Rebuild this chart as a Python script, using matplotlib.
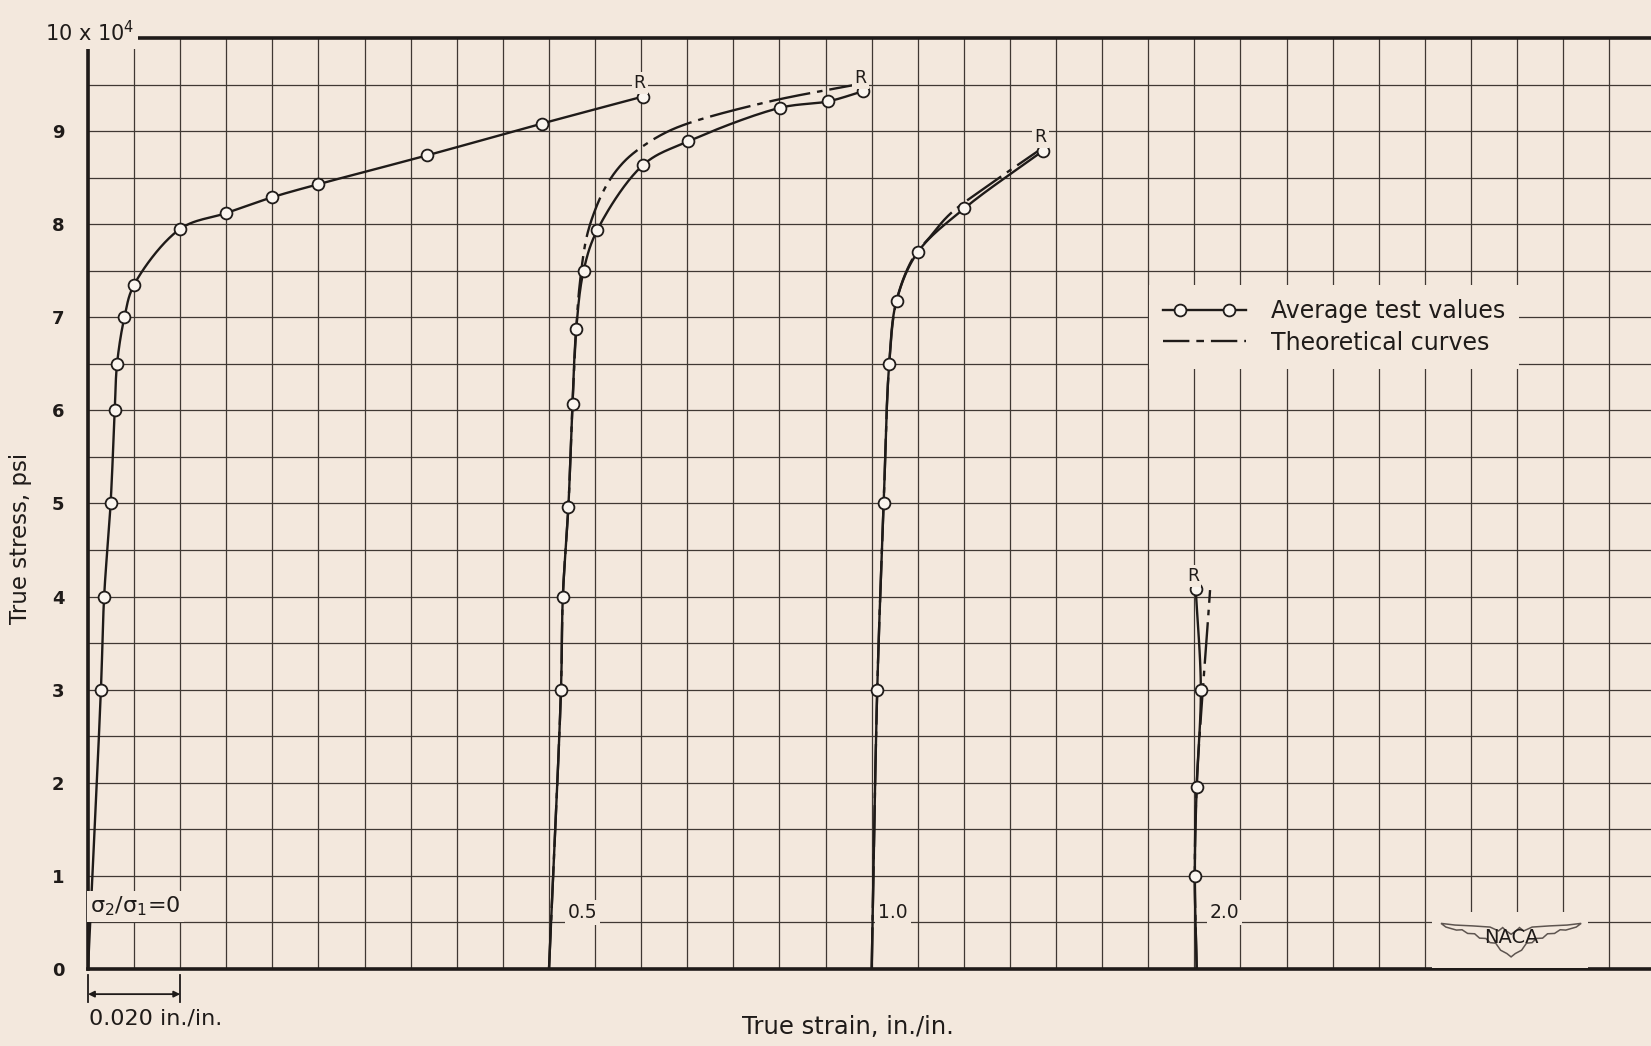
import numpy as np
import matplotlib
matplotlib.use("Agg")
import matplotlib.pyplot as plt
from matplotlib.legend_handler import HandlerBase
from matplotlib.lines import Line2D
from matplotlib.patches import Polygon, Rectangle

plt.rcParams['font.family'] = ['DejaVu Sans']
plt.rcParams['lines.scale_dashes'] = False
plt.rcParams['mathtext.fontset'] = 'dejavusans'

PAPER = '#f3e8dd'
INK = '#1f1b19'
GRID = '#3f3833'
DOT_FILL = '#faf5ef'

# Stress ratios sigma2/sigma1 and the horizontal origin of each curve (in./in.)
ratio_labels = ['0', '0.5', '1.0', '2.0']
curve_offsets = [0.0, 0.100, 0.170, 0.2405]

# Average test values: true strain from each curve origin (in./in.), true stress (10^4 psi)
test_strain_0 = [0, 0.0028, 0.0035, 0.0049, 0.0058, 0.0063, 0.0079, 0.0100,
                 0.0200, 0.0300, 0.0400, 0.0500, 0.0736, 0.0984, 0.1203]
test_stress_0 = [0, 3.0, 4.0, 5.0, 6.0, 6.5, 7.0, 7.35,
                 7.95, 8.12, 8.29, 8.43, 8.74, 9.08, 9.37]

test_strain_05 = [0, 0.0026, 0.0030, 0.0042, 0.0051, 0.0059, 0.0075,
                  0.0105, 0.0205, 0.0302, 0.0501, 0.0606, 0.0682]
test_stress_05 = [0, 3.0, 4.0, 4.96, 6.07, 6.87, 7.50,
                  7.94, 8.64, 8.89, 9.25, 9.32, 9.43]

test_strain_10 = [0, 0.0012, 0.0026, 0.0038, 0.0054, 0.0100, 0.0201, 0.0372]
test_stress_10 = [0, 3.0, 5.0, 6.5, 7.18, 7.70, 8.17, 8.79]

test_strain_20 = [0, -0.0004, 0.0000, 0.0009, -0.0002]
test_stress_20 = [0, 1.0, 1.96, 3.0, 4.08]

# Theoretical curves
theo_strain_05 = [0, 0.0026, 0.0030, 0.0042, 0.0051, 0.0059, 0.0067, 0.0082,
                  0.0103, 0.0125, 0.0150, 0.0180, 0.0240, 0.0300, 0.0480, 0.0667]
theo_stress_05 = [0, 3.0, 4.0, 4.96, 6.07, 6.87, 7.37, 7.87,
                  8.19, 8.42, 8.60, 8.75, 8.95, 9.08, 9.32, 9.50]

theo_strain_10 = [0, 0.0012, 0.0026, 0.0038, 0.0054, 0.0090, 0.0126, 0.0170, 0.0257, 0.0365]
theo_stress_10 = [0, 3.0, 5.0, 6.5, 7.18, 7.64, 7.86, 8.11, 8.43, 8.80]

theo_strain_20 = [0, -0.0004, 0.0000, 0.0029]
theo_stress_20 = [0, 1.0, 1.96, 4.07]

test_strains = [test_strain_0, test_strain_05, test_strain_10, test_strain_20]
test_stresses = [test_stress_0, test_stress_05, test_stress_10, test_stress_20]
theo_strains = [None, theo_strain_05, theo_strain_10, theo_strain_20]
theo_stresses = [None, theo_stress_05, theo_stress_10, theo_stress_20]

y_tick_values = list(range(0, 10))


def faired(xs, ys, n=24):
    """Centripetal Catmull-Rom curve through the points (French-curve fairing)."""
    P = np.column_stack([np.asarray(xs, float) * 100.0, np.asarray(ys, float) * 2.0])
    if len(P) < 3:
        return np.asarray(xs, float), np.asarray(ys, float)
    P = np.vstack([2 * P[0] - P[1], P, 2 * P[-1] - P[-2]])
    pts = []
    for i in range(1, len(P) - 2):
        p0, p1, p2, p3 = P[i - 1], P[i], P[i + 1], P[i + 2]
        t0 = 0.0
        t1 = t0 + max(np.linalg.norm(p1 - p0), 1e-9) ** 0.5
        t2 = t1 + max(np.linalg.norm(p2 - p1), 1e-9) ** 0.5
        t3 = t2 + max(np.linalg.norm(p3 - p2), 1e-9) ** 0.5
        t = np.linspace(t1, t2, n, endpoint=(i == len(P) - 3))[:, None]
        a1 = (t1 - t) / (t1 - t0) * p0 + (t - t0) / (t1 - t0) * p1
        a2 = (t2 - t) / (t2 - t1) * p1 + (t - t1) / (t2 - t1) * p2
        a3 = (t3 - t) / (t3 - t2) * p2 + (t - t2) / (t3 - t2) * p3
        b1 = (t2 - t) / (t2 - t0) * a1 + (t - t0) / (t2 - t0) * a2
        b2 = (t3 - t) / (t3 - t1) * a2 + (t - t1) / (t3 - t1) * a3
        c = (t2 - t) / (t2 - t1) * b1 + (t - t1) / (t2 - t1) * b2
        pts.append(c)
    pts = np.vstack(pts)
    return pts[:, 0] / 100.0, pts[:, 1] / 2.0


class TestValuesHandler(HandlerBase):
    """Legend key: a line running past two open circles."""

    def create_artists(self, legend, orig_handle, xdescent, ydescent,
                       width, height, fontsize, trans):
        y = height / 2.0 - ydescent
        x0, x1 = -xdescent, -xdescent + width
        pad = 0.72 * fontsize
        line = Line2D([x0, x1], [y, y], color=INK, lw=1.7)
        dots = Line2D([x0 + pad, x1 - pad], [y, y], ls='none', marker='o', ms=8.5,
                      mfc=DOT_FILL, mec=INK, mew=1.3)
        line.set_transform(trans)
        dots.set_transform(trans)
        return [line, dots]


W, H = 1651, 1046
fig = plt.figure(figsize=(W / 100, H / 100), dpi=100, facecolor=PAPER)
ax = fig.add_axes([88 / W, 1 - 969 / H, (W - 88) / W, (969 - 38) / H])
ax.set_facecolor(PAPER)
ax.set_xlim(0, 0.33905)
ax.set_ylim(0, 10)

# Graph-paper grid
ax.set_xticks(np.arange(0, 0.339, 0.01))
ax.set_xticklabels([])
ax.set_yticks(y_tick_values)
ax.set_yticklabels([str(v) for v in y_tick_values], fontsize=13, fontweight='bold', color=INK)
ax.set_yticks(np.arange(0.5, 10, 1.0), minor=True)
ax.tick_params(axis='both', which='both', length=0)
ax.tick_params(axis='y', pad=17)
ax.grid(True, which='both', color=GRID, lw=0.9)
ax.set_axisbelow(True)
for side in ('left', 'bottom', 'top'):
    ax.spines[side].set_linewidth(2.6)
    ax.spines[side].set_color(INK)
ax.spines['right'].set_visible(False)

marker_style = dict(marker='o', ms=8.5, mfc=DOT_FILL, mec=INK, mew=1.3, ls='none', zorder=6)
theo_dash = (0, (30, 5, 4, 5))

for k in range(4):
    off = curve_offsets[k]
    xs = off + np.asarray(test_strains[k])
    ys = np.asarray(test_stresses[k])
    fx, fy = faired(xs, ys)
    ax.plot(fx, fy, color=INK, lw=1.7, solid_capstyle='round', zorder=4)
    if theo_strains[k] is not None:
        tx = off + np.asarray(theo_strains[k])
        ty = np.asarray(theo_stresses[k])
        gx, gy = faired(tx, ty)
        ax.plot(gx, gy, color=INK, lw=1.7, ls=theo_dash, zorder=4)
    ax.plot(xs[1:], ys[1:], **marker_style)
    # rupture mark
    ax.text(xs[-1] - 0.0006, ys[-1] + 0.09, 'R', fontsize=12.5, color=INK,
            ha='center', va='baseline', zorder=7,
            bbox=dict(boxstyle='square,pad=0.12', fc=PAPER, ec='none'))

# Stress-ratio labels near the foot of each curve
label_box = dict(boxstyle='square,pad=0.15', fc=PAPER, ec='none')
ax.text(0.0004, 0.67, 'σ$_2$/σ$_1$=0', fontsize=16, color=INK,
        ha='left', va='center', zorder=5, bbox=label_box)
for lbl, xpos in zip(ratio_labels[1:], [0.1072, 0.1746, 0.2465]):
    ax.text(xpos, 0.61, lbl, fontsize=13.5, color=INK, ha='center', va='center',
            zorder=5, bbox=label_box)

# Exponent label at the top of the stress axis
ax.text(0.0100, 9.965, r'10 x 10$^{4}$', fontsize=15, color=INK, ha='right',
        va='baseline', zorder=8, clip_on=False,
        bbox=dict(boxstyle='square,pad=0.2', fc=PAPER, ec='none'))

# Strain scale bar under the axis
for xb in (0.0, 0.02):
    ax.plot([xb, xb], [-0.06, -0.35], color=INK, lw=1.3, clip_on=False)
ax.annotate('', xy=(0.0, -0.27), xytext=(0.02, -0.27),
            arrowprops=dict(arrowstyle='<|-|>', color=INK, lw=1.3, mutation_scale=9,
                            shrinkA=0, shrinkB=0), annotation_clip=False)
ax.text(0.0003, -0.53, '0.020 in./in.', fontsize=16, color=INK, ha='left', va='center')

# Legend
h_test = Line2D([], [], color=INK, lw=1.7, marker='o')
h_theo = Line2D([], [], color=INK, lw=1.7, ls=(0, (19, 5, 5.5, 5)))
leg = ax.legend([h_test, h_theo], ['Average test values', 'Theoretical curves'],
                handler_map={h_test: TestValuesHandler()},
                loc='upper left', bbox_to_anchor=(1149 / W, 1 - 285 / H),
                bbox_transform=fig.transFigure, frameon=True, facecolor=PAPER,
                edgecolor='none', framealpha=1, fancybox=False, fontsize=17,
                handlelength=3.5, handletextpad=1.06, labelspacing=0.32,
                borderpad=0.6, borderaxespad=0)
for t in leg.get_texts():
    t.set_color(INK)
leg.set_zorder(9)

# NACA wing badge
cx, cy, hw, hh = 0.3087, 0.31, 0.0152, 0.18
ax.add_patch(Rectangle((0.2915, 0.01), 0.0339, 0.60, fc=PAPER, ec='none', zorder=3))
right_half = [(0.00, 0.35), (0.07, 0.55), (0.12, 0.75), (0.18, 0.55), (0.30, 0.78),
              (0.55, 0.85), (0.80, 0.90), (1.00, 1.00), (0.93, 0.78), (0.78, 0.60),
              (0.70, 0.62), (0.62, 0.40), (0.52, 0.38), (0.45, 0.12), (0.36, 0.10),
              (0.30, -0.15), (0.22, -0.18), (0.15, -0.60), (0.06, -0.80), (0.00, -1.00)]
left_half = [(-x, y) for (x, y) in reversed(right_half)]
outline = [(cx + x * hw, cy + y * hh) for (x, y) in right_half + left_half[1:-1]]
ax.add_patch(Polygon(outline, closed=True, fc=PAPER, ec='#5e5550', lw=1.1, zorder=3.5))
ax.text(cx, cy + 0.03, 'NACA', fontsize=14, color=INK, ha='center', va='center', zorder=4)

# Axis titles
fig.text(848 / W, 1 - 1027 / H, 'True strain, in./in.', fontsize=17.5, color=INK,
         ha='center', va='center')
fig.text(21 / W, 1 - 538 / H, 'True stress, psi', fontsize=16.5, color=INK,
         ha='center', va='center', rotation=90)

fig.savefig('out.png', dpi=100, facecolor=PAPER)
